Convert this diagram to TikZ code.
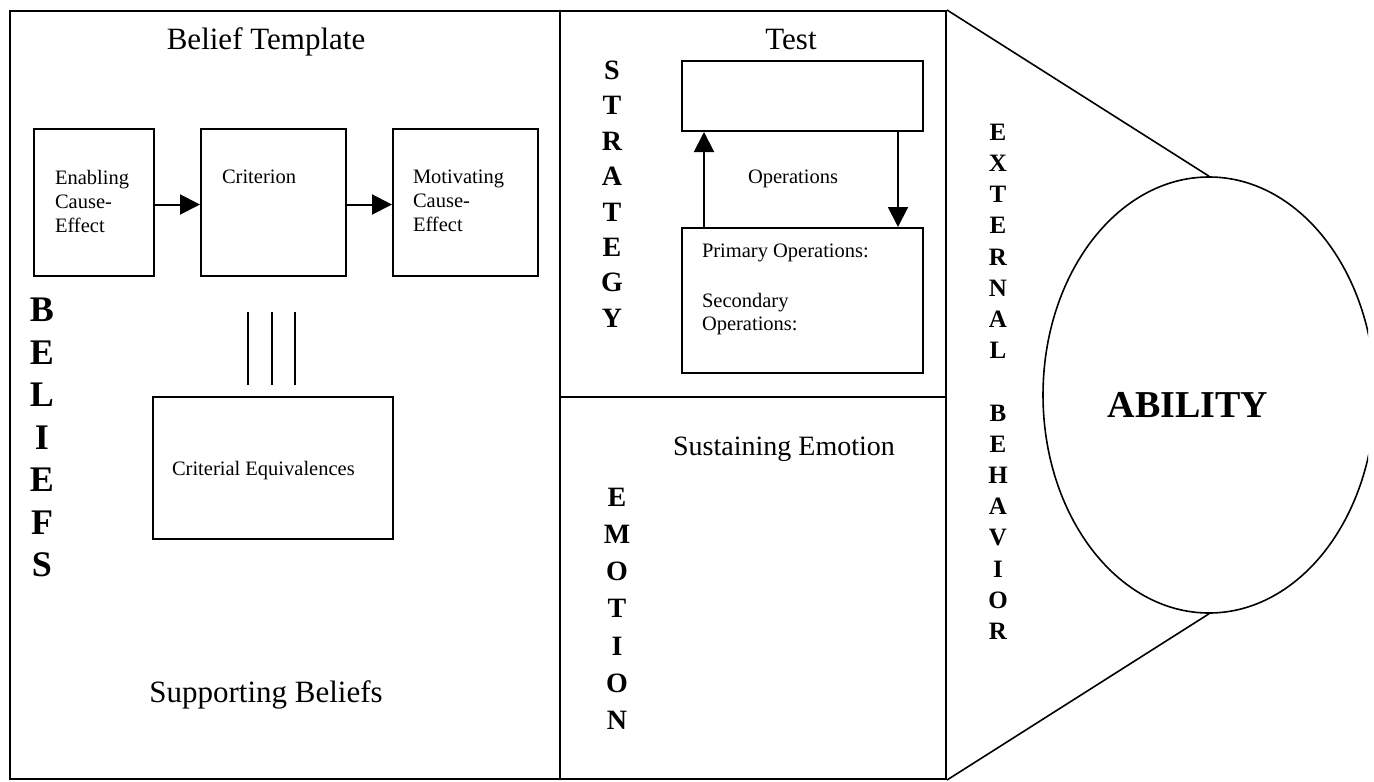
\documentclass[tikz,border=0pt]{standalone}
\usepackage{fontspec}
\setmainfont{Liberation Serif}
\usetikzlibrary{arrows.meta,calc,shapes.geometric}
\begin{document}
\begin{tikzpicture}[x=0.5pt,y=-0.5pt, line width=1pt,
  box/.style={draw, inner sep=0pt, anchor=north west},
  small/.style={font=\fontsize{10.25}{12}\selectfont, inner sep=0pt, align=left},
  big/.style={font=\fontsize{15.5}{18}\selectfont, inner sep=0pt},
  vtext/.style={inner sep=0pt, align=center, anchor=north},
  arr/.style={-{Triangle[length=10pt,width=10pt]}},
]
\useasboundingbox (0,0) rectangle (1374,781);

% panels
\node[box, minimum width=275pt, minimum height=384pt] (beliefpanel) at (9,10) {};
\node[box, minimum width=193pt, minimum height=193pt] (strat) at (559,10) {};
\node[box, minimum width=193pt, minimum height=191pt] (emo) at (559,396) {};

% ellipse (clipped at the right edge)
\begin{scope}
  \clip (940,0) rectangle (1368,781);
  \node[draw, ellipse, minimum width=166pt, minimum height=218pt, inner sep=0pt, line width=0.8pt] (ell) at (1209,395) {};
\end{scope}
\draw[line width=0.8pt] (strat.north east) -- (ell.north);
\draw[line width=0.8pt] (emo.south east) -- (ell.south);
\node[inner sep=0pt, anchor=base, font=\fontsize{19}{22}\selectfont\bfseries] (ability) at (1188,417) {ABILITY};
\node[vtext, font=\fontsize{12.5}{15.6}\selectfont\bfseries] (extbeh) at (998,123)
  {E\\X\\T\\E\\R\\N\\A\\L\\[15.6pt]B\\E\\H\\A\\V\\I\\O\\R};

% beliefs panel
\node[big, anchor=base] (bt) at (266,50) {Belief Template};
\node[box, minimum width=60pt, minimum height=73.5pt] (enab) at (33,128) {};
\node[box, minimum width=72.5pt, minimum height=73.5pt] (crit) at (200,128) {};
\node[box, minimum width=72.5pt, minimum height=73.5pt] (motiv) at (392,128) {};
\node[small, anchor=north west] (enabt) at (54,169) {Enabling\\Cause-\\Effect};
\node[small, anchor=north west] (critt) at (221,169) {Criterion};
\node[small, anchor=north west] (motivt) at (412,169) {Motivating\\Cause-\\Effect};
\draw[arr] ($(enab.east)+(0,2)$) -- ($(crit.west)+(0,2)$);
\draw[arr] ($(crit.east)+(0,2)$) -- ($(motiv.west)+(0,2)$);
\draw[line width=0.8pt] (248,312) -- (248,385);
\draw[line width=0.8pt] (272,312) -- (272,385);
\draw[line width=0.8pt] (295,312) -- (295,385);
\node[box, minimum width=120pt, minimum height=71pt] (ceq) at (152,396) {};
\node[small, anchor=base west] (ceqt) at (171,475) {Criterial Equivalences};
\node[big, anchor=base] (sb) at (266,702) {Supporting Beliefs};
\node[vtext, font=\fontsize{18}{21.25}\selectfont\bfseries] (beliefs) at (42,297)
  {B\\E\\L\\I\\E\\F\\S};

% strategy panel
\node[big, anchor=base] (testt) at (791,50) {Test};
\node[box, minimum width=120.5pt, minimum height=35pt] (test) at (681,60) {};
\node[box, minimum width=120.5pt, minimum height=72.5pt] (ops) at (681,227) {};
\coordinate (upx) at (704,0);
\coordinate (downx) at (898,0);
\draw[arr] (upx |- ops.north) -- (upx |- test.south);
\draw[arr] (downx |- test.south) -- (downx |- ops.north);
\node[small, anchor=base] (opst) at (793,183) {Operations};
\node[small, anchor=north west, font=\fontsize{10.25}{11.5}\selectfont] (opsl) at (701,243)
  {Primary Operations:\\[13.5pt]Secondary\\Operations:};
\node[vtext, font=\fontsize{14}{17.7}\selectfont\bfseries] (strategy) at (612,60)
  {S\\T\\R\\A\\T\\E\\G\\Y};

% emotion panel
\node[big, anchor=base, font=\fontsize{14}{17}\selectfont] (se) at (784,455) {Sustaining Emotion};
\node[vtext, font=\fontsize{14}{18.6}\selectfont\bfseries] (emotion) at (617,487)
  {E\\M\\O\\T\\I\\O\\N};
\end{tikzpicture}
\end{document}
